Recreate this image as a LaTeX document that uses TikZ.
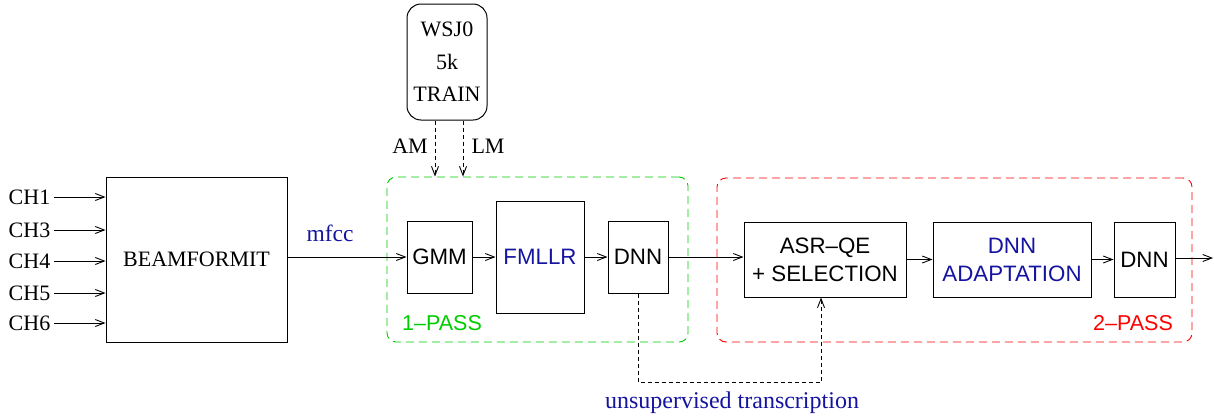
\documentclass[tikz,border=0pt]{standalone}
\usepackage{fontspec}
\setmainfont{Liberation Serif}
\setsansfont{Liberation Sans}
\usetikzlibrary{arrows.meta}
\definecolor{figblue}{RGB}{20,20,160}
\definecolor{figgreen}{RGB}{0,205,0}
\definecolor{figred}{RGB}{255,0,0}
\tikzset{
  blk/.style={draw, line width=1pt, inner sep=0pt, font=\sffamily\fontsize{22.3}{28}\selectfont, align=center},
  serif/.style={font=\rmfamily\fontsize{22}{32.5}\selectfont, inner sep=4pt},
  flow/.style={line width=0.9pt, -{Straight Barb[length=9pt,width=7pt,line width=0.9pt]}},
  dflow/.style={flow, dash pattern=on 4pt off 3pt},
  passbox/.style={draw, line width=0.9pt, dash pattern=on 8pt off 5pt, rounded corners=9pt, inner sep=0pt}
}
\begin{document}
\begin{tikzpicture}[x=1pt, y=-1pt]
\useasboundingbox (0,0) rectangle (1214,418);

% pass regions
\node[passbox, color=figgreen, minimum width=301pt, minimum height=165pt] (pass1) at (537.5,259.5) {};
\node[passbox, color=figred, minimum width=475pt, minimum height=164pt] (pass2) at (954.5,260) {};
\node[font=\sffamily\fontsize{21.5}{26}\selectfont, text=figgreen] (l1) at (442,323) {1--PASS};
\node[font=\sffamily\fontsize{21.5}{26}\selectfont, text=figred] (l2) at (1133,323) {2--PASS};

% front end
\node[blk, font=\rmfamily\fontsize{22}{26}\selectfont, minimum width=181pt, minimum height=165pt] (beam) at (196.5,259.5) {BEAMFORMIT};
\foreach \name/\yy in {CH1/197, CH3/230, CH4/261, CH5/293, CH6/323}{
  \node[serif] (\name) at (29.5,\yy) {\name};
  \draw[flow] (\name.east) -- (beam.west |- \name.east);
}

% first pass
\node[blk, minimum width=65pt, minimum height=72pt] (gmm) at (439.5,257) {GMM};
\node[blk, text=figblue, minimum width=88pt, minimum height=112pt] (fmllr) at (540,257) {FMLLR};
\node[blk, minimum width=60pt, minimum height=72pt] (dnn1) at (638,257) {DNN};

% second pass
\node[blk, minimum width=162pt, minimum height=75pt] (asr) at (825,259.5) {ASR--QE\\+ SELECTION};
\node[blk, text=figblue, minimum width=158pt, minimum height=75pt] (adapt) at (1012,259.5) {DNN\\ADAPTATION};
\node[blk, minimum width=61pt, minimum height=75pt] (dnn2) at (1144.5,259.5) {DNN};

% training data
\node[draw, line width=1pt, rounded corners=14pt, minimum width=80pt, minimum height=116pt,
      serif, align=center] (wsj) at (447,62) {WSJ0\\5k\\TRAIN};

% main signal path
\node[serif, font=\rmfamily\fontsize{23.5}{28}\selectfont, text=figblue] (mfcc) at (330,233) {mfcc};
\draw[flow] (beam.east |- gmm.west) -- (gmm.west);
\draw[flow] (gmm.east) -- (fmllr.west |- gmm.east);
\draw[flow] (fmllr.east |- dnn1.west) -- (dnn1.west);
\draw[flow] (dnn1.east) -- (asr.west |- dnn1.east);
\draw[flow] (asr.east |- adapt.west) -- (adapt.west);
\draw[flow] (adapt.east) -- (dnn2.west);
\coordinate (out) at (1213,258);
\draw[flow] (dnn2.east |- out) -- (out);

% models from training data
\coordinate (amx) at (435,0);
\coordinate (lmx) at (463,0);
\draw[dflow] (wsj.south -| amx) -- (pass1.north -| amx);
\draw[dflow] (wsj.south -| lmx) -- (pass1.north -| lmx);
\node[serif] (am) at (410,146) {AM};
\node[serif] (lm) at (488,146) {LM};

% transcription feedback
\coordinate (tr1) at (638,382);
\coordinate (tr2) at (821,382);
\draw[dflow] (dnn1.south) -- (tr1) -- (tr2) -- (asr.south -| tr2);
\node[serif, font=\rmfamily\fontsize{24}{28}\selectfont, text=figblue] (trans) at (732,403) {unsupervised transcription};
\end{tikzpicture}
\end{document}
